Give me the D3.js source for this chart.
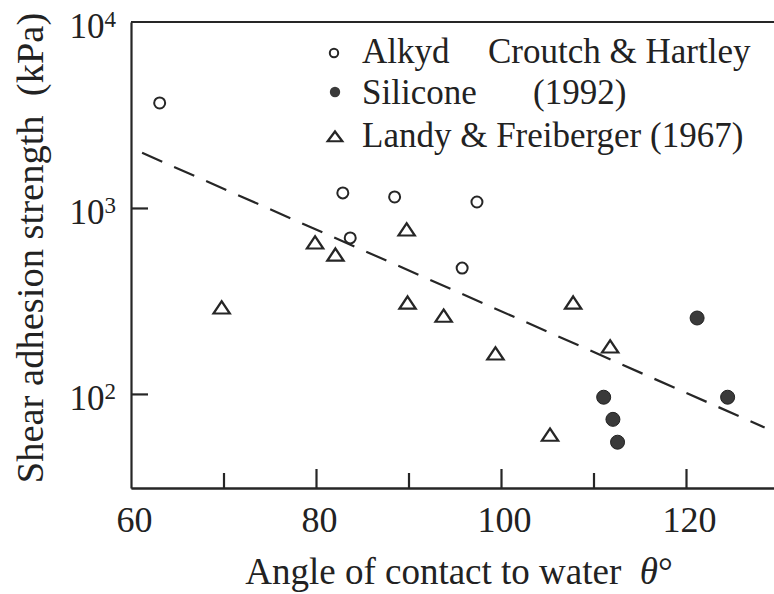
<!DOCTYPE html>
<html>
<head>
<meta charset="utf-8">
<script src="https://cdn.jsdelivr.net/npm/d3@7"></script>
<style>
  body { margin: 0; background: #fff; }
  svg text { font-family: "Liberation Serif", "Tinos", "Times New Roman", "Nimbus Roman", "DejaVu Serif", serif; fill: #222; white-space: pre; }
</style>
</head>
<body>
<div id="chart"></div>
<script>
// data (angle in degrees, strength in kPa)
var alkydAngle = [63.1, 82.9, 88.5, 97.4, 83.7, 95.8];
var alkydStrength = [3670, 1205, 1146, 1077, 690, 475];

var siliconeAngle = [121.2, 124.5, 111.1, 112.1, 112.6];
var siliconeStrength = [256, 96, 96, 73, 55];

var landyAngle = [69.8, 79.9, 82.1, 89.8, 89.9, 93.8, 99.4, 107.8, 111.8, 105.3];
var landyStrength = [290, 649, 558, 762, 308, 262, 164, 308, 179, 60];

// dashed trend line end points
var trendAngle = [61.2, 128.5];
var trendStrength = [1980, 66];

var xMajorTicks = [60, 80, 100, 120];
var xMinorTicks = [70, 90, 110];
var yTicks = [100, 1000, 10000];

var legendLabels = ["Alkyd", "Silicone", "Landy & Freiberger (1967)"];
var legendNote = ["Croutch & Hartley", "(1992)"];

var serif = "'Liberation Serif', Tinos, 'Times New Roman', 'Nimbus Roman', 'DejaVu Serif', serif";

//svg container
var svgWidth = 774;
var svgHeight = 594;

var svg = d3.select("#chart")
  .append("svg")
  .attr("width", svgWidth)
  .attr("height", svgHeight)
  .attr("font-family", serif);

var ink = "#262626";

//scales
var xScale = d3.scaleLinear()
  .domain([60, 130])
  .range([131, 778.5]);

var yScale = d3.scaleLog()
  .domain([31.2, 10000])
  .range([488, 22]);

//x axis: long major ticks, shorter minor ticks, both pointing inward
var xMajor = d3.axisBottom(xScale)
  .tickValues(xMajorTicks)
  .tickSizeInner(-19)
  .tickSizeOuter(0)
  .tickPadding(18)
  .tickFormat(d3.format("d"));

var xMinor = d3.axisBottom(xScale)
  .tickValues(xMinorTicks)
  .tickSizeInner(-15)
  .tickSizeOuter(0)
  .tickFormat("");

var gx = svg.append("g")
  .attr("transform", `translate(0, ${yScale(31.2)})`)
  .call(xMajor);
svg.append("g")
  .attr("transform", `translate(0, ${yScale(31.2)})`)
  .call(xMinor);

svg.selectAll("g").attr("font-family", serif);
svg.selectAll(".domain").attr("stroke", ink).attr("stroke-width", 2.2);
svg.selectAll(".tick line").attr("stroke", ink).attr("stroke-width", 2.2);
gx.selectAll(".tick text")
  .attr("font-size", 36)
  .attr("fill", "#222")
  .attr("dx", 3);
gx.selectAll(".tick line").filter(d => d === 60).remove();

//y axis
var yAxis = d3.axisLeft(yScale)
  .tickValues(yTicks)
  .tickSizeInner(-17)
  .tickSizeOuter(0)
  .tickPadding(15)
  .tickFormat("");

var gy = svg.append("g")
  .attr("transform", `translate(${xScale(60)}, 0)`)
  .call(yAxis)
  .attr("font-family", serif);
gy.select(".domain").attr("stroke", ink).attr("stroke-width", 2.2);
gy.selectAll(".tick line").attr("stroke", ink).attr("stroke-width", 2.2)
  .filter(d => d === 10000).remove();

var yLab = gy.selectAll(".tick text")
  .attr("font-size", 35)
  .attr("fill", "#222")
  .attr("dy", "0.45em");
yLab.append("tspan").text("10");
yLab.append("tspan")
  .attr("font-size", 23)
  .attr("dy", -11)
  .text(d => Math.round(Math.log10(d)));

//top frame line
svg.append("line")
  .attr("x1", xScale(60))
  .attr("x2", xScale(130))
  .attr("y1", yScale(10000))
  .attr("y2", yScale(10000))
  .attr("stroke", ink)
  .attr("stroke-width", 2.2);

//trend line
var line = d3.line()
  .x(d => xScale(d[0]))
  .y(d => yScale(d[1]));

svg.append("path")
  .datum(d3.zip(trendAngle, trendStrength))
  .attr("d", line)
  .attr("fill", "none")
  .attr("stroke", ink)
  .attr("stroke-width", 2.2)
  .attr("stroke-dasharray", "22,13");

//markers
var triangle = d3.symbol().type(d3.symbolTriangle).size(95);

svg.selectAll(".alkyd")
  .data(d3.zip(alkydAngle, alkydStrength))
  .enter()
  .append("circle")
  .attr("class", "alkyd")
  .attr("cx", d => xScale(d[0]))
  .attr("cy", d => yScale(d[1]))
  .attr("r", 5.5)
  .attr("fill", "#fff")
  .attr("stroke", ink)
  .attr("stroke-width", 2);

svg.selectAll(".silicone")
  .data(d3.zip(siliconeAngle, siliconeStrength))
  .enter()
  .append("circle")
  .attr("class", "silicone")
  .attr("cx", d => xScale(d[0]))
  .attr("cy", d => yScale(d[1]))
  .attr("r", 7)
  .attr("fill", "#3a3a3a")
  .attr("stroke", "#222")
  .attr("stroke-width", 1);

svg.selectAll(".landy")
  .data(d3.zip(landyAngle, landyStrength))
  .enter()
  .append("path")
  .attr("class", "landy")
  .attr("d", triangle)
  .attr("transform", d => `translate(${xScale(d[0])}, ${yScale(d[1]) + 1.5}) scale(1.1, 0.95)`)
  .attr("fill", "#fff")
  .attr("stroke", ink)
  .attr("stroke-width", 2.2);

//legend
var legendY = [63, 104, 147];
var legend = svg.append("g");

legend.selectAll("text.lab")
  .data(legendLabels)
  .enter()
  .append("text")
  .attr("class", "lab")
  .attr("x", 362)
  .attr("y", (d, i) => legendY[i])
  .attr("font-size", 35)
  .text(d => d);

legend.append("text")
  .attr("x", 488)
  .attr("y", legendY[0])
  .attr("font-size", 35)
  .text(legendNote[0]);
legend.append("text")
  .attr("x", 533)
  .attr("y", legendY[1])
  .attr("font-size", 35)
  .text(legendNote[1]);

legend.append("circle")
  .attr("cx", 334).attr("cy", legendY[0] - 10)
  .attr("r", 4.2)
  .attr("fill", "#fff").attr("stroke", ink).attr("stroke-width", 2);
legend.append("circle")
  .attr("cx", 335).attr("cy", legendY[1] - 12)
  .attr("r", 5.2)
  .attr("fill", "#3a3a3a");
legend.append("path")
  .attr("d", d3.symbol().type(d3.symbolTriangle).size(70))
  .attr("transform", `translate(335, ${legendY[2] - 9}) scale(1.15, 0.9)`)
  .attr("fill", "#fff").attr("stroke", ink).attr("stroke-width", 2.2);

//axis titles
svg.append("text")
  .attr("x", 459)
  .attr("y", 584)
  .attr("text-anchor", "middle")
  .attr("font-size", 37)
  .text("Angle of contact to water  ")
  .append("tspan")
  .attr("font-style", "italic")
  .text("θ")
  .append("tspan")
  .attr("font-style", "normal")
  .text("°");

svg.append("text")
  .attr("transform", "rotate(-90)")
  .attr("x", -248)
  .attr("y", 43)
  .attr("text-anchor", "middle")
  .attr("font-size", 38.5)
  .text("Shear adhesion strength  (kPa)");
</script>
</body>
</html>
